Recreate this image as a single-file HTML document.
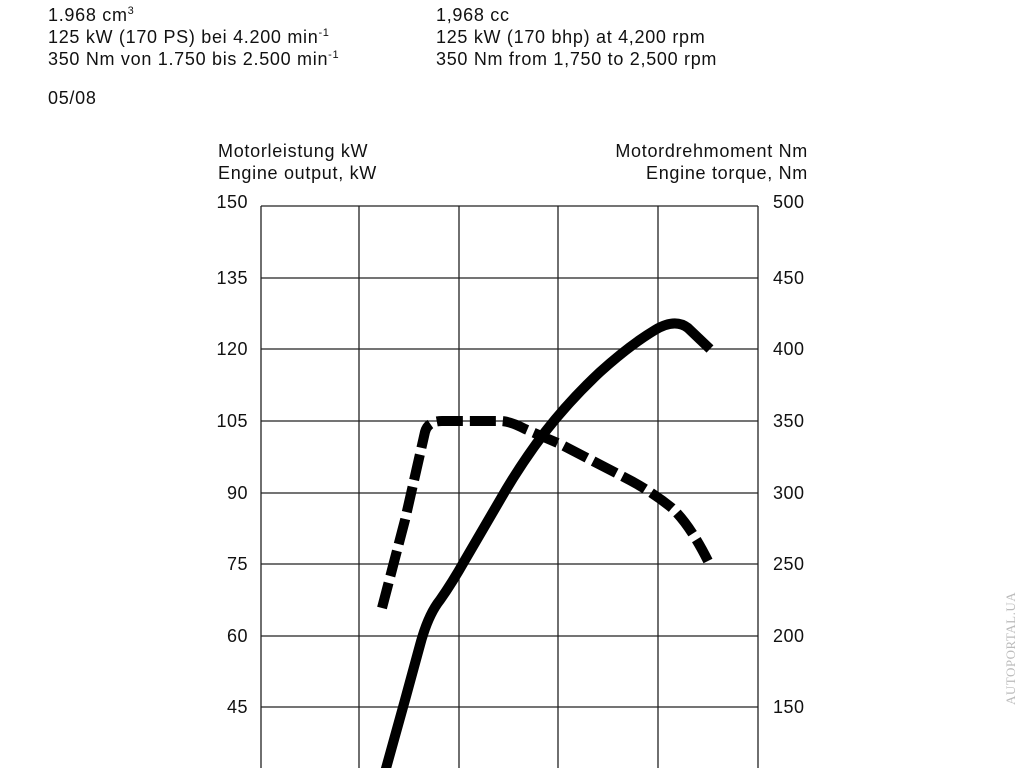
<!DOCTYPE html>
<html><head><style>
body{margin:0;background:#fff;width:1024px;height:768px;overflow:hidden;position:relative;font-family:"Liberation Sans",Arial,sans-serif;color:#111}
.t{position:absolute;font-size:18px;line-height:22px;white-space:nowrap;letter-spacing:0.7px}
sup{font-size:11px;line-height:0}
</style></head><body>
<div class="t" style="left:48px;top:4px">1.968 cm<sup>3</sup><br>125 kW (170 PS) bei 4.200 min<sup>-1</sup><br>350 Nm von 1.750 bis 2.500 min<sup>-1</sup></div>
<div class="t" style="left:48px;top:87px">05/08</div>
<div class="t" style="left:436px;top:4px">1,968 cc<br>125 kW (170 bhp) at 4,200 rpm<br>350 Nm from 1,750 to 2,500 rpm</div>
<div class="t" style="left:218px;top:140px">Motorleistung kW<br>Engine output, kW</div>
<div class="t" style="right:216px;top:140px;text-align:right">Motordrehmoment Nm<br>Engine torque, Nm</div>
<svg width="1024" height="768" style="position:absolute;left:0;top:0">
<g stroke="#222" stroke-width="1.3">
<line x1="261" y1="206" x2="261" y2="768"/><line x1="359" y1="206" x2="359" y2="768"/><line x1="459" y1="206" x2="459" y2="768"/><line x1="558" y1="206" x2="558" y2="768"/><line x1="658" y1="206" x2="658" y2="768"/><line x1="758" y1="206" x2="758" y2="768"/>
<line x1="261" y1="206" x2="758" y2="206"/><line x1="261" y1="278" x2="758" y2="278"/><line x1="261" y1="349" x2="758" y2="349"/><line x1="261" y1="421" x2="758" y2="421"/><line x1="261" y1="493" x2="758" y2="493"/><line x1="261" y1="564" x2="758" y2="564"/><line x1="261" y1="636" x2="758" y2="636"/><line x1="261" y1="707" x2="758" y2="707"/>
</g>
<g font-family="Liberation Sans,Arial,sans-serif" font-size="18" fill="#111" letter-spacing="0.5">
<g text-anchor="end">
<text x="248" y="208">150</text><text x="248" y="284">135</text><text x="248" y="355">120</text><text x="248" y="427">105</text><text x="248" y="499">90</text><text x="248" y="570">75</text><text x="248" y="642">60</text><text x="248" y="713">45</text><text x="248" y="782">30</text>
</g>
<text x="773" y="208">500</text><text x="773" y="284">450</text><text x="773" y="355">400</text><text x="773" y="427">350</text><text x="773" y="499">300</text><text x="773" y="570">250</text><text x="773" y="642">200</text><text x="773" y="713">150</text><text x="773" y="782">100</text>
</g>
<path d="M385,772 L405,700 L420,645 Q428,615 440,600 Q452,583 465,560 L500,500 Q520,465 545,432 Q570,400 600,372 Q630,345 655,330 Q675,318 688,328 L710,349" fill="none" stroke="#000" stroke-width="10"/>
<path d="M382,608 L405,520 L425,432 Q428,421 442,421 L500,421 Q510,421 525,429 L560,444 L620,475 Q650,490 672,508 Q690,525 708,561" fill="none" stroke="#000" stroke-width="10" stroke-dasharray="26,7"/>
<text x="1015" y="705" transform="rotate(-90 1015 705)" font-family="Liberation Serif,serif" font-size="13" fill="#bbb" letter-spacing="0.5">AUTOPORTAL.UA</text>
</svg>
</body></html>
